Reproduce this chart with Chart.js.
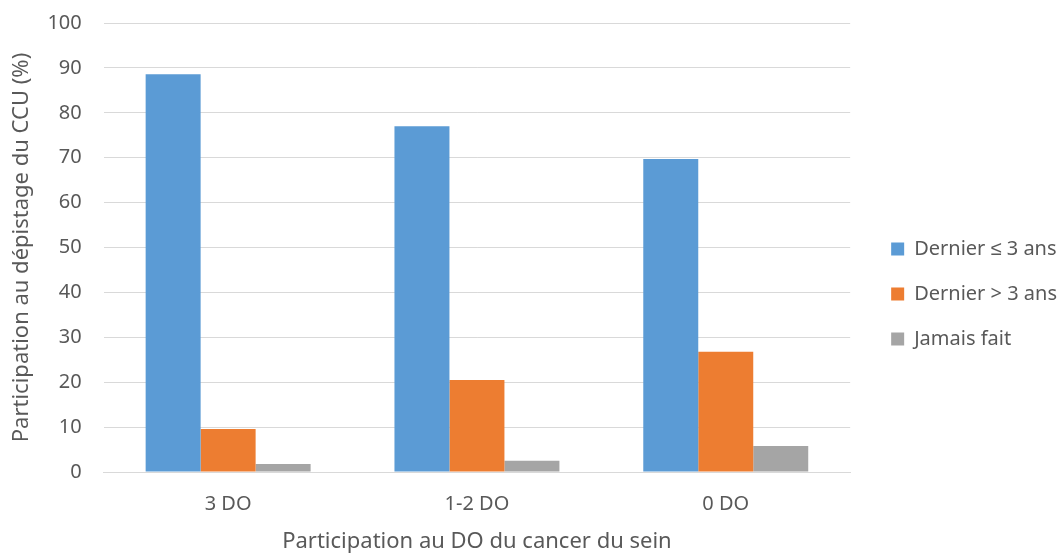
<!DOCTYPE html>
<html>
<head>
<meta charset="utf-8">
<script src="https://cdn.jsdelivr.net/npm/chart.js@4"></script>
<style>
  body { margin: 0; background: #fff; }
  #wrap { width: 1059px; height: 553px; }
</style>
</head>
<body>
<div id="wrap"><canvas id="myChart" width="1059" height="553"></canvas></div>
<script>
const categories = ['3 DO', '1-2 DO', '0 DO'];
const dernier_moins3 = [88.6, 77.0, 69.7];
const dernier_plus3 = [9.6, 20.5, 26.8];
const jamais_fait = [1.8, 2.5, 5.8];
const y_ticks = [0, 10, 20, 30, 40, 50, 60, 70, 80, 90, 100];

const font_family = "'Noto Sans', sans-serif";
const text_color = '#595959';
const grid_color = '#d9d9d9';
const legend_gap = 8;
const legend_offset = 16;
const legend_down = 6;

// leave some white space between the plot and the legend
const legendGap = {
    id: 'legendGap',
    afterInit(chart) {
        const legend = chart.legend;
        if (!legend) return;
        const fit = legend.fit;
        legend.fit = function () {
            fit.call(this);
            this.width += legend_gap;
        };
    },
    afterLayout(chart) {
        if (!chart.legend) return;
        chart.legend.left += legend_offset;
        chart.legend.top += legend_down;
        chart.legend.bottom += legend_down;
    }
};

const data_render = {
    labels: categories,
    datasets: [
        { label: 'Dernier ≤ 3 ans', data: dernier_moins3, backgroundColor: '#5b9bd5' },
        { label: 'Dernier > 3 ans', data: dernier_plus3, backgroundColor: '#ed7d31' },
        { label: 'Jamais fait', data: jamais_fait, backgroundColor: '#a5a5a5' }
    ]
};

const config = {
    type: 'bar',
    data: data_render,
    plugins: [legendGap],
    options: {
        responsive: false,
        animation: false,
        datasets: {
            bar: { categoryPercentage: 0.663, barPercentage: 1 }
        },
        layout: { padding: { left: 0, top: 23, right: 0, bottom: 0 } },
        plugins: {
            tooltip: { enabled: false },
            legend: {
                position: 'right',
                align: 'center',
                labels: {
                    color: text_color,
                    boxWidth: 13,
                    boxHeight: 13,
                    padding: 25,
                    font: { family: font_family, size: 20 }
                }
            }
        },
        scales: {
            x: {
                grid: { display: false, drawTicks: false },
                border: { color: grid_color },
                ticks: { color: text_color, padding: 22, font: { family: font_family, size: 20, lineHeight: 1 } },
                title: {
                    display: true,
                    text: 'Participation au DO du cancer du sein',
                    color: text_color,
                    padding: { top: -5, bottom: 0 },
                    font: { family: font_family, size: 22, lineHeight: 1 }
                }
            },
            y: {
                min: 0,
                max: 100,
                afterBuildTicks: (axis) => { axis.ticks = y_ticks.map(v => ({ value: v })); },
                grid: { color: grid_color, drawTicks: false },
                border: { display: false },
                // small lineHeight so the top label does not push the plot down
                ticks: { color: text_color, padding: 22, font: { family: font_family, size: 20, lineHeight: 0.1 } },
                title: {
                    display: true,
                    text: 'Participation au dépistage du CCU (%)',
                    color: text_color,
                    padding: { top: 9, bottom: -10 },
                    font: { family: font_family, size: 22 }
                }
            }
        }
    }
};

const myChart = document.getElementById('myChart');
new Chart(myChart, config);
</script>
</body>
</html>
